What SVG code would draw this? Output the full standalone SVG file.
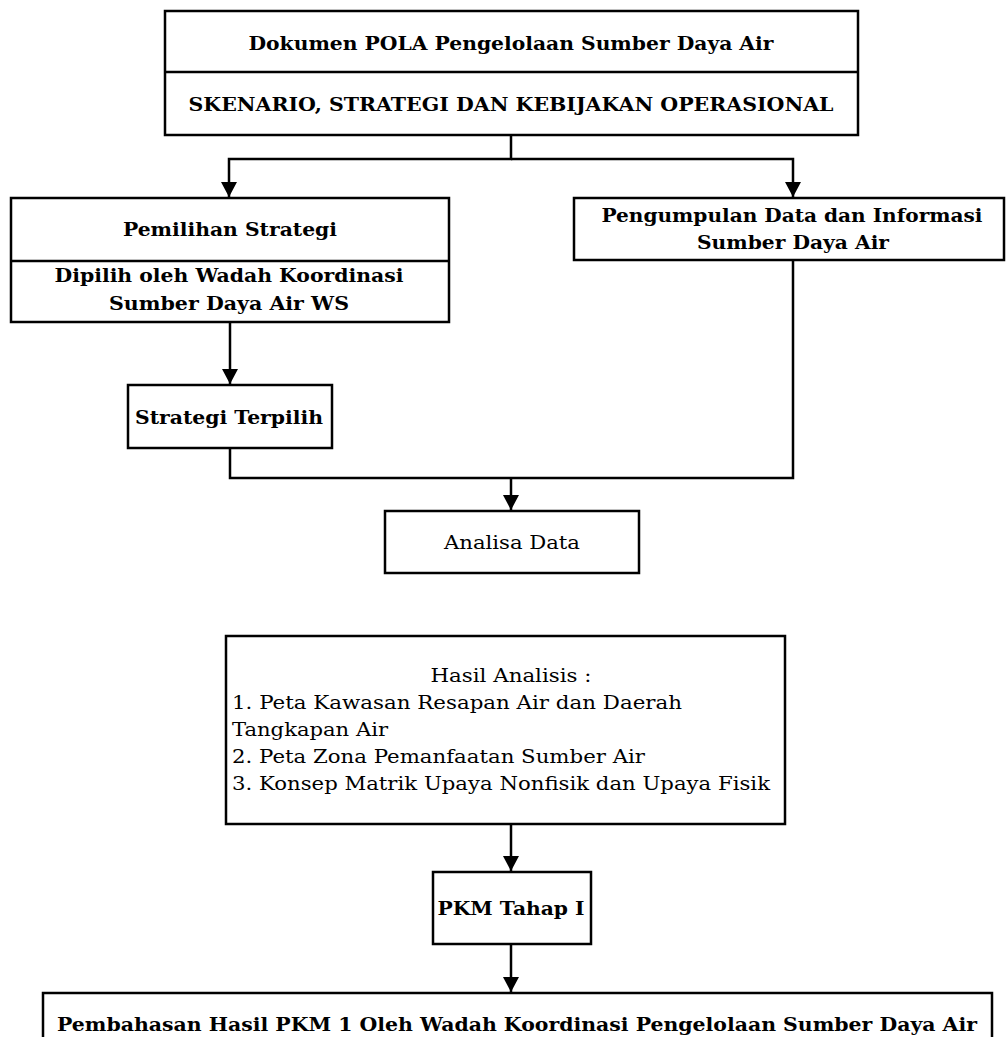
<svg xmlns="http://www.w3.org/2000/svg" width="1006" height="1037" viewBox="0 0 1006 1037">
<style>
.box{fill:#fff;stroke:#000;stroke-width:2.5}
.div{stroke:#000;stroke-width:2.5}
.con{fill:none;stroke:#000;stroke-width:2.5}
.b{font-family:"DejaVu Serif","Liberation Serif",serif;font-weight:bold;font-size:19px;fill:#000}
.n{font-family:"DejaVu Serif","Liberation Serif",serif;font-size:19px;fill:#000}
.c{text-anchor:middle}
</style>
<defs>
<marker id="arr" markerWidth="16" markerHeight="16" refX="15" refY="8" orient="auto" markerUnits="userSpaceOnUse">
<path d="M0,0 L15,8 L0,16 z" fill="#000"/>
</marker>
</defs>
<rect width="1006" height="1037" fill="#fff"/>
<g id="connectors">
<path class="con" d="M511,135 V159 H229 V197" marker-end="url(#arr)"/>
<path class="con" d="M511,159 H793 V197" marker-end="url(#arr)"/>
<path class="con" d="M230,322 V384" marker-end="url(#arr)"/>
<path class="con" d="M230,448 V478 H511"/>
<path class="con" d="M793,260 V478 H511"/>
<path class="con" d="M511,478 V510" marker-end="url(#arr)"/>
<path class="con" d="M511,824 V871" marker-end="url(#arr)"/>
<path class="con" d="M511,944 V992" marker-end="url(#arr)"/>
</g>
<g id="node-dokumen">
<rect class="box" x="165" y="11" width="693" height="124"/>
<line class="div" x1="165" y1="72" x2="858" y2="72"/>
<text class="b c" x="511" y="50" textLength="525" lengthAdjust="spacingAndGlyphs">Dokumen POLA Pengelolaan Sumber Daya Air</text>
<text class="b c" x="511" y="111" textLength="645" lengthAdjust="spacingAndGlyphs">SKENARIO, STRATEGI DAN KEBIJAKAN OPERASIONAL</text>
</g>
<g id="node-pemilihan">
<rect class="box" x="11" y="198" width="438" height="124"/>
<line class="div" x1="11" y1="261" x2="449" y2="261"/>
<text class="b c" x="230" y="236" textLength="214" lengthAdjust="spacingAndGlyphs">Pemilihan Strategi</text>
<text class="b c" x="229" y="282" textLength="349" lengthAdjust="spacingAndGlyphs">Dipilih oleh Wadah Koordinasi</text>
<text class="b c" x="229" y="310" textLength="240" lengthAdjust="spacingAndGlyphs">Sumber Daya Air WS</text>
</g>
<g id="node-pengumpulan">
<rect class="box" x="574" y="198" width="430" height="62"/>
<text class="b c" x="792" y="222" textLength="381" lengthAdjust="spacingAndGlyphs">Pengumpulan Data dan Informasi</text>
<text class="b c" x="793" y="249" textLength="192" lengthAdjust="spacingAndGlyphs">Sumber Daya Air</text>
</g>
<g id="node-strategi-terpilih">
<rect class="box" x="128" y="385" width="204" height="63"/>
<text class="b c" x="229" y="424" textLength="188" lengthAdjust="spacingAndGlyphs">Strategi Terpilih</text>
</g>
<g id="node-analisa">
<rect class="box" x="385" y="511" width="254" height="62"/>
<text class="n c" x="512" y="549" textLength="136" lengthAdjust="spacingAndGlyphs">Analisa Data</text>
</g>
<g id="node-hasil">
<rect class="box" x="226" y="636" width="559" height="188"/>
<text class="n c" x="511" y="682" textLength="161" lengthAdjust="spacingAndGlyphs">Hasil Analisis :</text>
<text class="n" x="232" y="709" textLength="450" lengthAdjust="spacingAndGlyphs">1. Peta Kawasan Resapan Air dan Daerah</text>
<text class="n" x="232" y="736" textLength="156" lengthAdjust="spacingAndGlyphs">Tangkapan Air</text>
<text class="n" x="232" y="763" textLength="413" lengthAdjust="spacingAndGlyphs">2. Peta Zona Pemanfaatan Sumber Air</text>
<text class="n" x="232" y="790" textLength="538" lengthAdjust="spacingAndGlyphs">3. Konsep Matrik Upaya Nonfisik dan Upaya Fisik</text>
</g>
<g id="node-pkm">
<rect class="box" x="433" y="872" width="158" height="72"/>
<text class="b c" x="511" y="915" textLength="147" lengthAdjust="spacingAndGlyphs">PKM Tahap I</text>
</g>
<g id="node-pembahasan">
<rect class="box" x="43" y="993" width="949" height="70"/>
<text class="b c" x="517" y="1031" textLength="920" lengthAdjust="spacingAndGlyphs">Pembahasan Hasil PKM 1 Oleh Wadah Koordinasi Pengelolaan Sumber Daya Air</text>
</g>
</svg>
